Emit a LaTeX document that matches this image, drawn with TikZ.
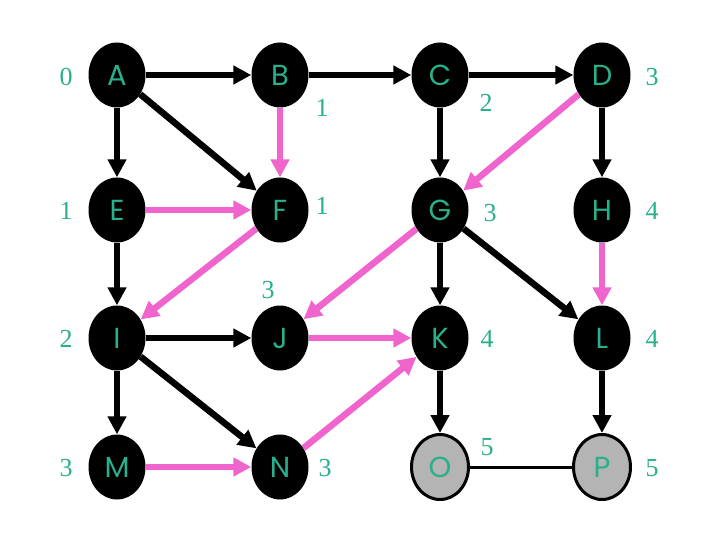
\documentclass[tikz,border=0pt]{standalone}
\usepackage{fontspec}
\setmainfont{Liberation Serif}
\newfontfamily\lettersf{Poppins}
\usetikzlibrary{shapes.geometric,arrows.meta}
\definecolor{pinkedge}{RGB}{240,100,205}
\definecolor{labelteal}{RGB}{40,175,140}
\definecolor{visitgray}{RGB}{180,180,180}
\begin{document}
\begin{tikzpicture}[x=1pt,y=-1pt,>={Triangle[length=18pt,width=18pt]},
  vtx/.style={ellipse,fill=black,minimum width=57pt,minimum height=65pt,inner sep=0pt,
    text=labelteal,font=\lettersf\fontsize{29}{29}\selectfont},
  done/.style={vtx,fill=visitgray,draw=black,line width=3pt},
  blk/.style={->,line width=6.5pt,black},
  pnk/.style={->,line width=6.5pt,pinkedge},
  dist/.style={text=labelteal,font=\fontsize{26}{26}\selectfont}]
\useasboundingbox (0,0) rectangle (720,540);

\foreach \n/\x/\y in {A/117/75,B/280/75,C/440/75,D/602/75,
                      E/117/210,F/280/210,G/440/210,H/602/210,
                      I/117/338,J/280/338,K/440/338,L/602/338,
                      M/117/467,N/280/467}
{
   \node[vtx] (\n) at (\x,\y) {\n};
}
\node[done] (O) at (440,467) {O};
\node[done] (P) at (602,467) {P};

% black edges
\draw[blk] (A)--(B);
\draw[blk] (A)--(E);
\draw[blk] (A)--(F);
\draw[blk] (B)--(C);
\draw[blk] (C)--(D);
\draw[blk] (C)--(G);
\draw[blk] (D)--(H);
\draw[blk] (E)--(I);
\draw[blk] (G)--(K);
\draw[blk] (G)--(L);
\draw[blk] (I)--(J);
\draw[blk] (I)--(M);
\draw[blk] (I)--(N);
\draw[blk] (K)--(O);
\draw[blk] (L)--(P);
\draw[line width=3pt] (O)--(P);

% pink edges
\draw[pnk] (B)--(F);
\draw[pnk] (E)--(F);
\draw[pnk] (D)--(G);
\draw[pnk] (F)--(I);
\draw[pnk] (G)--(J);
\draw[pnk] (J)--(K);
\draw[pnk] (H)--(L);
\draw[pnk] (M)--(N);
\draw[pnk] (N)--(K);

% distances
\node[dist] (dA) at (66,77) {0};
\node[dist] (dB) at (322,108) {1};
\node[dist] (dC) at (486,103) {2};
\node[dist] (dD) at (652,77) {3};
\node[dist] (dE) at (66,211) {1};
\node[dist] (dF) at (322,206) {1};
\node[dist] (dG) at (490,213) {3};
\node[dist] (dH) at (652,211) {4};
\node[dist] (dJ) at (268,290) {3};
\node[dist] (dI) at (66,339) {2};
\node[dist] (dK) at (487,339) {4};
\node[dist] (dL) at (652,339) {4};
\node[dist] (dM) at (66,468) {3};
\node[dist] (dN) at (325,468) {3};
\node[dist] (dO) at (487,447) {5};
\node[dist] (dP) at (652,468) {5};
\end{tikzpicture}
\end{document}
